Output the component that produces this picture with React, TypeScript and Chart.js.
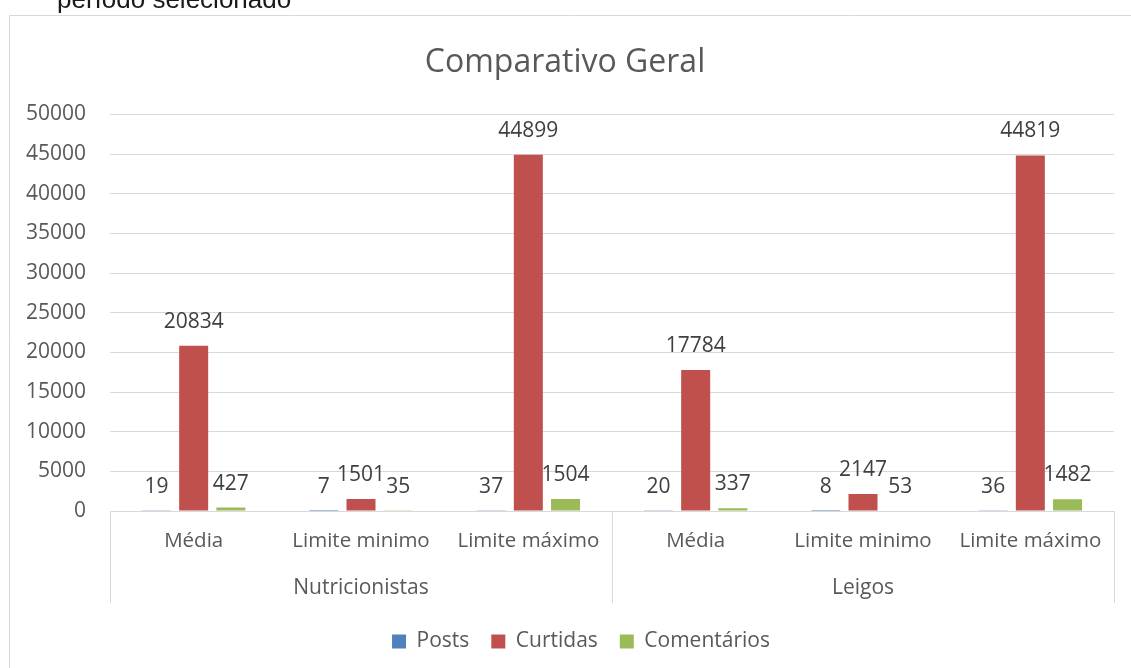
import React, { useEffect, useRef } from 'react';
import { Chart, registerables } from 'chart.js';

Chart.register(...registerables);

// ---- data ----
const headerText = 'período selecionado';
const chartTitle = 'Comparativo Geral';
const groups = ['Nutricionistas', 'Leigos'];
const subCategories = ['Média', 'Limite minimo', 'Limite máximo'];
const seriesNames = ['Posts', 'Curtidas', 'Comentários'];
const posts = [19, 7, 37, 20, 8, 36];
const curtidas = [20834, 1501, 44899, 17784, 2147, 44819];
const comentarios = [427, 35, 1504, 337, 53, 1482];
const yMin = 0;
const yMax = 50000;
const yStep = 5000;

const categories = groups.flatMap(() => subCategories);
const seriesValues = [posts, curtidas, comentarios];
const seriesColors = ['#4F81BD', '#C0504D', '#9BBB59'];

const FONT = '"Open Sans", "DejaVu Sans", sans-serif';
const TEXT = '#595959';
const GRID = '#d9d9d9';
const FS = 21;

export default function App() {
  const ref = useRef<HTMLCanvasElement>(null);

  useEffect(() => {
    const canvas = ref.current;
    if (!canvas) return;

    const framePlugin = {
      id: 'frame',
      afterLayout(chart: any) {
        // the Excel chart frame is centred slightly to the right of the plot
        if (chart.legend) {
          chart.legend.left += 24;
          chart.legend.right += 24;
        }
        if (chart.titleBlock) {
          chart.titleBlock.left += 8;
          chart.titleBlock.right += 8;
        }
      },
      beforeDraw(chart: any) {
        const { ctx, width, height } = chart;
        ctx.save();
        ctx.strokeStyle = GRID;
        ctx.lineWidth = 1;
        ctx.beginPath();
        ctx.moveTo(9.5, height);
        ctx.lineTo(9.5, 15.5);
        ctx.lineTo(width, 15.5);
        ctx.stroke();
        ctx.fillStyle = '#1a1a1a';
        ctx.font = '26px "Liberation Sans", Arial, sans-serif';
        ctx.textAlign = 'left';
        ctx.textBaseline = 'alphabetic';
        ctx.fillText(headerText, 57, 8);
        ctx.restore();
      },
    };

    const valueLabelPlugin = {
      id: 'valueLabels',
      afterDatasetsDraw(chart: any) {
        const { ctx } = chart;
        ctx.save();
        ctx.fillStyle = '#404040';
        ctx.font = `${FS}px ${FONT}`;
        ctx.textAlign = 'center';
        ctx.textBaseline = 'alphabetic';
        chart.data.datasets.forEach((ds: any, di: number) => {
          const meta = chart.getDatasetMeta(di);
          meta.data.forEach((el: any, i: number) => {
            ctx.fillText(String(ds.data[i]), el.x, el.y - 18);
          });
        });
        ctx.restore();
      },
    };

    const groupAxisPlugin = {
      id: 'groupAxis',
      afterDraw(chart: any) {
        const { ctx, chartArea } = chart;
        const xs = chart.scales.x;
        const per = subCategories.length;
        const bounds: number[] = [];
        for (let g = 0; g <= groups.length; g++) {
          let px: number;
          if (g === 0) px = xs.left;
          else if (g === groups.length) px = xs.right;
          else px = (xs.getPixelForValue(g * per - 1) + xs.getPixelForValue(g * per)) / 2;
          bounds.push(px);
        }
        ctx.save();
        ctx.strokeStyle = GRID;
        ctx.lineWidth = 1;
        bounds.forEach((px) => {
          const xx = Math.round(px) + 0.5;
          ctx.beginPath();
          ctx.moveTo(xx, chartArea.bottom);
          ctx.lineTo(xx, chartArea.bottom + 92);
          ctx.stroke();
        });
        ctx.fillStyle = TEXT;
        ctx.font = `${FS}px ${FONT}`;
        ctx.textAlign = 'center';
        ctx.textBaseline = 'middle';
        groups.forEach((g, i) => {
          ctx.fillText(g, (bounds[i] + bounds[i + 1]) / 2, chartArea.bottom + 77);
        });
        ctx.restore();
      },
    };

    const chart = new Chart(canvas, {
      type: 'bar',
      data: {
        labels: categories,
        datasets: seriesNames.map((name, i) => ({
          label: name,
          data: seriesValues[i],
          backgroundColor: seriesColors[i],
          borderWidth: 0,
          categoryPercentage: 0.667,
          barPercentage: 0.78,
        })),
      },
      options: {
        responsive: false,
        animation: false,
        devicePixelRatio: 1,
        layout: { padding: { left: 0, right: 17, top: 0, bottom: 6 } },
        plugins: {
          title: {
            display: true,
            text: chartTitle,
            color: TEXT,
            font: { family: FONT, size: 32, weight: 'normal' },
            padding: { top: 44, bottom: 32 },
          },
          legend: {
            position: 'bottom',
            labels: {
              boxWidth: 14,
              boxHeight: 14,
              padding: 22,
              color: TEXT,
              font: { family: FONT, size: FS },
            },
          },
          tooltip: { enabled: false },
        },
        scales: {
          x: {
            grid: { display: false, drawTicks: false },
            border: { display: true, color: GRID, width: 1 },
            ticks: {
              color: TEXT,
              font: { family: FONT, size: 20.5 },
              padding: 18,
              maxRotation: 0,
              autoSkip: false,
            },
            afterFit(scale: any) {
              scale.height = 98;
            },
          },
          y: {
            min: yMin,
            max: yMax,
            grid: { color: GRID, lineWidth: 1, drawTicks: false },
            border: { display: false },
            ticks: {
              stepSize: yStep,
              color: TEXT,
              font: { family: FONT, size: FS },
              padding: 24,
              callback: (v: any) => String(v),
            },
            afterFit(scale: any) {
              scale.width = 110;
            },
          },
        },
      },
      plugins: [framePlugin, valueLabelPlugin, groupAxisPlugin],
    });

    return () => chart.destroy();
  }, []);

  return (
    <div style={{ position: 'fixed', left: 0, top: 0, width: 1131, height: 668, background: '#fff', overflow: 'hidden' }}>
      <canvas ref={ref} width={1131} height={668} style={{ display: 'block', width: 1131, height: 668 }} />
    </div>
  );
}
